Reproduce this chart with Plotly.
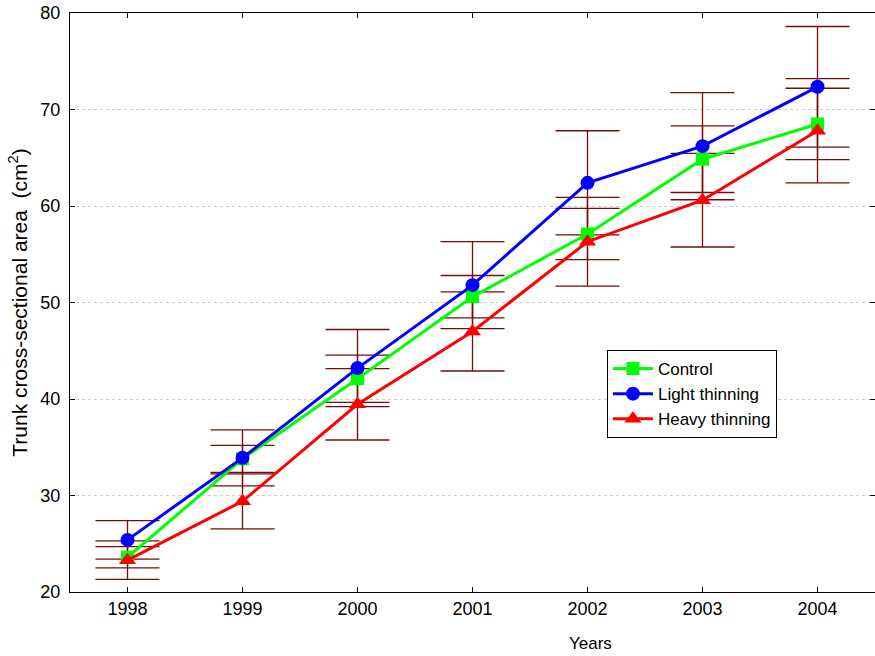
import plotly.graph_objects as go

years = [1998, 1999, 2000, 2001, 2002, 2003, 2004]
control = [23.6, 33.8, 42.1, 50.6, 57.1, 64.85, 68.5]
control_err = [1.1, 1.4, 2.45, 2.2, 2.65, 3.45, 3.7]
light = [25.4, 33.9, 43.2, 51.8, 62.4, 66.2, 72.35]
light_err = [2.0, 2.9, 4.0, 4.5, 5.4, 5.55, 6.25]
heavy = [23.3, 29.4, 39.45, 47.0, 56.3, 60.6, 67.8]
heavy_err = [2.0, 2.85, 3.7, 4.1, 4.6, 4.85, 5.4]
y_ticks = [20, 30, 40, 50, 60, 70, 80]

series = [
    ("Control", control, control_err, "#00FF00", "square", 13),
    ("Light thinning", light, light_err, "#0000FF", "circle", 14),
    ("Heavy thinning", heavy, heavy_err, "#FF0000", "triangle-up", 15),
]

fig = go.Figure()
# error bars first (drawn underneath lines)
for name, vals, errs, col, sym, sz in series:
    fig.add_trace(go.Scatter(
        x=years, y=vals, mode="markers",
        marker=dict(size=1, color="rgba(0,0,0,0)"),
        error_y=dict(type="data", array=errs, visible=True,
                     color="#7A0A0A", thickness=1.3, width=32),
        showlegend=False, hoverinfo="skip"))
for name, vals, errs, col, sym, sz in series:
    fig.add_trace(go.Scatter(
        x=years, y=vals, mode="lines+markers", name=name,
        line=dict(color=col, width=3),
        marker=dict(symbol=sym, size=sz, color=col)))

font = "Liberation Sans, Arial, sans-serif"
fig.update_layout(
    width=875, height=656,
    margin=dict(l=70, r=0, t=13, b=64),
    paper_bgcolor="white", plot_bgcolor="white",
    font=dict(family=font, size=18, color="black"),
    legend=dict(x=0.667, y=0.418, xanchor="left", yanchor="top",
                bordercolor="black", borderwidth=1, bgcolor="white",
                font=dict(size=17), tracegroupgap=0, itemwidth=40),
    showlegend=True,
    annotations=[dict(text="Years", xref="paper", yref="paper",
                      x=0.646, y=-0.0898, xanchor="center", yanchor="middle",
                      showarrow=False, font=dict(size=17))],
)
fig.update_xaxes(
    range=[1997.5, 2004.5], tickmode="array", tickvals=years,
    ticktext=[str(y) for y in years],
    showline=True, linecolor="black", linewidth=1, mirror="ticks",
    ticks="inside", ticklen=5, tickcolor="black",
    showgrid=False, zeroline=False,
)
fig.update_yaxes(
    range=[20, 80], tickmode="array", tickvals=y_ticks,
    showline=True, linecolor="black", linewidth=1, mirror="ticks",
    ticks="inside", ticklen=5, tickcolor="black", ticklabelstandoff=5,
    showgrid=True, gridcolor="#CDCDCD", griddash="dot", gridwidth=1,
    zeroline=False,
    title=dict(text="Trunk cross-sectional area  (cm<sup>2</sup>)", font=dict(size=21), standoff=7),
)
fig.write_html("out.html")
